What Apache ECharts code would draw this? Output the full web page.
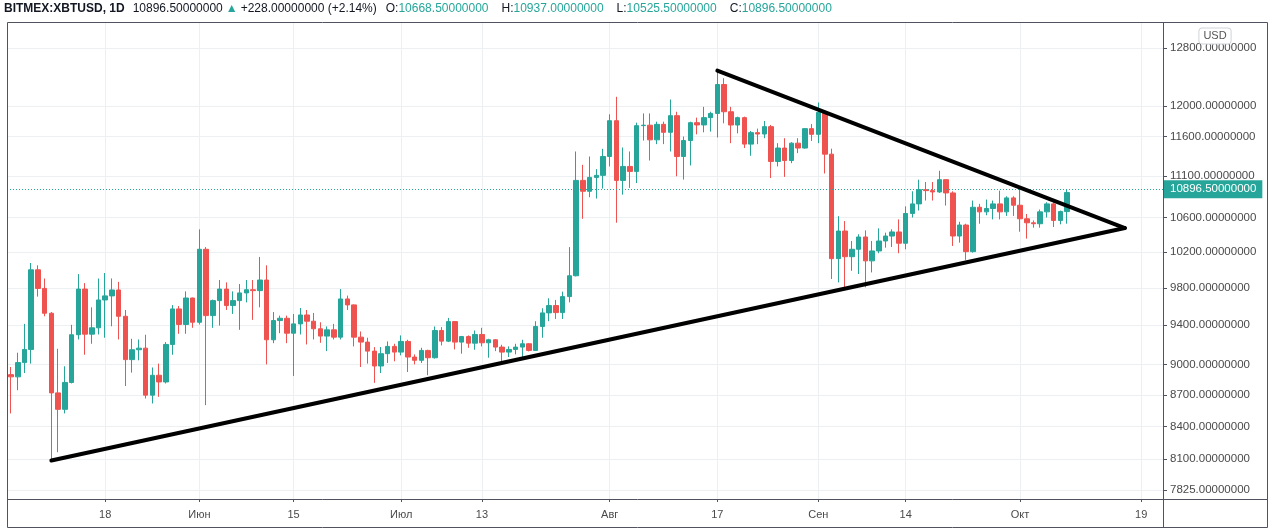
<!DOCTYPE html>
<html>
<head>
<meta charset="utf-8">
<script src="https://cdn.jsdelivr.net/npm/echarts@6/dist/echarts.min.js"></script>
<style>
html,body{margin:0;padding:0;background:#fff;}
#chart{width:1274px;height:531px;}
</style>
</head>
<body>
<div id="chart"></div>
<script>
// ---- DATA ----
const dates = [
'05-04','05-05','05-06','05-07','05-08','05-09','05-10','05-11','05-12','05-13','05-14','05-15','05-16','05-17','05-18','05-19','05-20','05-21','05-22','05-23','05-24','05-25','05-26','05-27','05-28','05-29','05-30','05-31',
'06-01','06-02','06-03','06-04','06-05','06-06','06-07','06-08','06-09','06-10','06-11','06-12','06-13','06-14','06-15','06-16','06-17','06-18','06-19','06-20','06-21','06-22','06-23','06-24','06-25','06-26','06-27','06-28','06-29','06-30',
'07-01','07-02','07-03','07-04','07-05','07-06','07-07','07-08','07-09','07-10','07-11','07-12','07-13','07-14','07-15','07-16','07-17','07-18','07-19','07-20','07-21','07-22','07-23','07-24','07-25','07-26','07-27','07-28','07-29','07-30','07-31',
'08-01','08-02','08-03','08-04','08-05','08-06','08-07','08-08','08-09','08-10','08-11','08-12','08-13','08-14','08-15','08-16','08-17','08-18','08-19','08-20','08-21','08-22','08-23','08-24','08-25','08-26','08-27','08-28','08-29','08-30','08-31',
'09-01','09-02','09-03','09-04','09-05','09-06','09-07','09-08','09-09','09-10','09-11','09-12','09-13','09-14','09-15','09-16','09-17','09-18','09-19','09-20','09-21','09-22','09-23','09-24','09-25','09-26','09-27','09-28','09-29','09-30',
'10-01','10-02','10-03','10-04','10-05','10-06','10-07','10-08'];
const opens = [
8898,8876,9018,9151,9999,9794,9527,8719,8561,8821,9302,9787,9308,9374,9669,9713,9777,9495,9048,9148,9164,8697,8892,8826,9202,9573,9409,9690,
9432,10230,9502,9662,9787,9609,9662,9745,9780,9770,9886,9250,9450,9474,9318,9415,9509,9443,9364,9288,9353,9277,9680,9616,9277,9226,9134,8984,9108,9182,
9124,9233,9074,9041,9141,9067,9346,9236,9439,9226,9283,9215,9305,9219,9250,9175,9124,9151,9175,9209,9141,9388,9531,9609,9534,9705,9933,11045,10912,11082,11107,
11343,11804,11045,11218,11156,11739,11745,11555,11756,11652,11870,11343,11546,11778,11748,11844,11900,12289,11922,11747,11844,11500,11648,11630,11726,11280,11450,11292,11512,11450,11700,
11626,11913,11372,10124,10440,10146,10230,10371,10099,10211,10325,10382,10429,10299,10646,10760,10932,10920,10904,11054,10892,10382,10510,10203,10720,10665,10705,10760,10665,10832,
10744,10583,10536,10525,10665,10760,10564,10668.5];
const closes = [
8876,9018,9151,9999,9794,9527,8719,8561,8821,9302,9787,9308,9374,9669,9713,9777,9495,9048,9148,9164,8697,8892,8826,9202,9573,9409,9690,9432,
10230,9502,9662,9787,9609,9662,9745,9780,9770,9886,9250,9450,9474,9318,9415,9509,9443,9364,9288,9353,9277,9680,9616,9277,9226,9134,8984,9108,9182,9124,
9233,9074,9041,9141,9067,9346,9236,9439,9226,9283,9215,9305,9219,9250,9175,9124,9151,9175,9209,9141,9388,9531,9609,9534,9705,9933,11045,10912,11082,11107,11343,
11804,11045,11218,11156,11739,11745,11555,11756,11652,11870,11343,11546,11778,11748,11844,11900,12289,11922,11747,11844,11500,11648,11630,11726,11280,11450,11292,11512,11450,11700,11626,
11913,11372,10124,10440,10146,10230,10371,10099,10211,10325,10382,10429,10299,10646,10760,10932,10920,10904,11054,10892,10382,10510,10203,10720,10665,10705,10760,10665,10832,10744,
10583,10536,10525,10665,10760,10564,10668.5,10896.5];
const lows = [
8522,8745,8914,9008,9705,9495,8087,8162,8522,8811,9253,9097,9209,9305,9271,9390,9253,8786,8918,9041,8665,8617,8681,8811,9097,9312,9312,9374,
9409,8601,9374,9397,9562,9520,9353,9643,9457,9590,9000,9215,9318,9215,8885,9305,9202,9253,9219,9134,9253,9253,9562,9182,8974,9008,8817,8914,9014,9031,
9091,8924,9000,9014,8892,9058,9192,9226,9151,9108,9168,9148,9182,9067,9134,9024,9074,9101,9074,9131,9141,9271,9443,9467,9467,9643,9926,10583,10840,10824,10945,
11218,10537,10871,10953,11012,11546,11292,11500,11500,11406,11096,11055,11230,11626,11652,11661,11585,11769,11512,11639,11450,11352,11500,11576,11074,11218,11088,11259,11385,11442,11541,
11512,11130,9897,9860,9806,9988,9952,9806,9970,10185,10248,10256,10185,10230,10598,10681,10800,10800,10892,10740,10268,10306,10110,10192,10525,10625,10576,10576,10617,10617,
10432,10352,10479,10479,10598,10487,10518,10525.5];
const highs = [
8974,9118,9415,10075,10049,9903,9540,9158,8981,9405,9951,9852,9590,9903,9963,9903,9866,9562,9260,9253,9302,8969,9008,9226,9614,9604,9762,9694,
10459,10255,9673,9886,9860,9762,9842,9886,9886,10143,10049,9540,9502,9502,9519,9583,9562,9530,9432,9388,9415,9787,9716,9620,9336,9271,9175,9175,9233,9209,
9295,9250,9101,9168,9148,9388,9381,9478,9445,9290,9295,9346,9374,9260,9258,9199,9182,9209,9250,9215,9443,9580,9687,9669,9759,10255,11406,11238,11343,11184,11440,
11888,12122,11457,11406,11778,11900,11900,11791,11791,12085,11922,11597,11790,11844,11987,11922,12471,12375,11987,11857,11857,11669,11700,11800,11748,11512,11576,11525,11576,11705,11760,
12045,11944,11442,10614,10556,10325,10402,10448,10325,10471,10421,10460,10576,10730,10912,11054,11025,11025,11164,11054,10912,10548,10525,10800,10760,10812,10800,10920,10852,10852,
10960,10640,10564,10693,10780,10780,10680,10937];

// axis ticks
const xTickDates = ['05-18','06-01','06-15','07-01','07-13','08-01','08-17','09-01','09-14','10-01','10-19'];
const xTickLabels = ['18','Июн','15','Июл','13','Авг','17','Сен','14','Окт','19'];
const yTicks = [7825, 8100, 8400, 8700, 9000, 9400, 9800, 10200, 10600, 11100, 11600, 12000, 12800];

// hand-drawn trend lines (date-time, price)
const supportLine = [['2020-05-10T00:00:00Z', 8087], ['2020-10-16T14:00:00Z', 10475]];
const resistanceLine = [['2020-08-17T00:00:00Z', 12480], ['2020-10-16T14:00:00Z', 10475]];

const symbolName = 'BITMEX:XBTUSD, 1D';
const priceRange = [7748, 13174];

// ---- BUILD ----
const UP = '#26a69a', DOWN = '#ef5350';
const day = s => Date.parse('2020-' + s + 'T00:00:00Z') / 864e5;
const dayT = s => Date.parse(s) / 864e5;
const L = Math.log;

const candleData = dates.map((d, i) => [day(d), L(opens[i]), L(closes[i]), L(lows[i]), L(highs[i])]);
const xTickDays = xTickDates.map(day);
const n = closes.length;
const lastC = closes[n-1], prevC = closes[n-2];
const chg = lastC - prevC, pct = chg / prevC * 100;
const f8 = v => v.toFixed(8);
const sg = v => (v >= 0 ? '+' : '');

const chart = echarts.init(document.getElementById('chart'), null, {renderer: 'canvas'});
const axisColor = '#50535e';
const gridColor = '#edf0f3';
const FONT = 'Liberation Sans';

const headerText =
  '{b|' + symbolName + '}{s2| }' + f8(lastC) + '{s1| }{g|▲}{s1| }' + sg(chg) + f8(chg) + ' (' + sg(chg) + pct.toFixed(2) + '%)' +
  '{s3| }O:{g|' + f8(opens[n-1]) + '}{s4| }H:{g|' + f8(highs[n-1]) + '}{s4| }L:{g|' + f8(lows[n-1]) + '}{s4| }C:{g|' + f8(lastC) + '}';

chart.setOption({
  animation: false,
  backgroundColor: '#ffffff',
  grid: {left: 7, right: 111, top: 22, bottom: 32, containLabel: false},
  xAxis: {
    type: 'value',
    min: day('05-04') - 0.6,
    max: day('10-22') + 0.25,
    axisLine: {show: false},
    axisTick: {show: true, length: 3, lineStyle: {color: axisColor}, customValues: xTickDays},
    axisLabel: {
      customValues: xTickDays,
      color: '#4a4a4a', fontSize: 11, fontFamily: FONT, margin: 10,
      formatter: v => { const k = xTickDays.findIndex(t => Math.abs(t - v) < 0.01); return k >= 0 ? xTickLabels[k] : ''; }
    },
    splitLine: {show: true, lineStyle: {color: gridColor, width: 1}}
  },
  yAxis: {
    type: 'value',
    position: 'right',
    min: L(priceRange[0]),
    max: L(priceRange[1]),
    axisLine: {show: false},
    axisTick: {show: true, length: 4, lineStyle: {color: axisColor}, customValues: yTicks.map(L)},
    axisLabel: {
      customValues: yTicks.map(L),
      color: '#4a4a4a', fontSize: 11.5, fontFamily: FONT, margin: 7,
      formatter: v => f8(Math.round(Math.exp(v)))
    },
    splitLine: {show: true, lineStyle: {color: gridColor, width: 1}}
  },
  series: [
    {
      type: 'candlestick',
      dimensions: ['t', 'open', 'close', 'lowest', 'highest'],
      encode: {x: 't', y: ['open', 'close', 'lowest', 'highest']},
      data: candleData,
      barWidth: 5,
      itemStyle: {color: UP, color0: DOWN, borderColor: UP, borderColor0: DOWN, borderWidth: 1},
      markLine: {
        silent: true,
        symbol: ['none', 'none'],
        data: [{yAxis: L(lastC)}],
        lineStyle: {color: UP, type: [1, 2], width: 1},
        label: {
          show: true, position: 'end', distance: 0,
          formatter: () => f8(lastC),
          color: '#ffffff', backgroundColor: UP, fontSize: 11.5, fontFamily: FONT,
          padding: [3, 6, 3, 7]
        }
      },
      z: 3
    },
    {
      type: 'line', data: supportLine.map(p => [dayT(p[0]), L(p[1])]),
      symbol: 'none', lineStyle: {color: '#000', width: 4, cap: 'round'}, z: 5, silent: true
    },
    {
      type: 'line', data: resistanceLine.map(p => [dayT(p[0]), L(p[1])]),
      symbol: 'none', lineStyle: {color: '#000', width: 4, cap: 'round'}, z: 5, silent: true
    }
  ],
  graphic: [
    {type: 'rect', shape: {x: 7.5, y: 22.5, width: 1260, height: 505}, style: {fill: 'none', stroke: axisColor, lineWidth: 1}, z: 10},
    {type: 'line', shape: {x1: 7, y1: 499.5, x2: 1268, y2: 499.5}, style: {stroke: axisColor, lineWidth: 1}, z: 10},
    {type: 'line', shape: {x1: 1163.5, y1: 22, x2: 1163.5, y2: 528}, style: {stroke: axisColor, lineWidth: 1}, z: 10},
    {type: 'text', x: 1215, y: 36, z: 20, style: {
      text: 'USD', align: 'center', verticalAlign: 'middle', fill: '#555', fontSize: 11, fontFamily: FONT,
      backgroundColor: '#fff', borderColor: '#d0d3d8', borderWidth: 1, borderRadius: 3, padding: [2, 4]
    }},
    {type: 'text', x: 4, y: 9, z: 20, style: {
      verticalAlign: 'middle', fontSize: 12, fontFamily: FONT, fill: '#131722',
      text: headerText,
      rich: {
        b: {fontWeight: 'bold', fontSize: 12, fontFamily: FONT, fill: '#131722'},
        g: {fill: UP, fontSize: 12, fontFamily: FONT},
        s1: {width: 3},
        s2: {width: 8},
        s3: {width: 9},
        s4: {width: 13}
      }
    }}
  ]
});
</script>
</body>
</html>
